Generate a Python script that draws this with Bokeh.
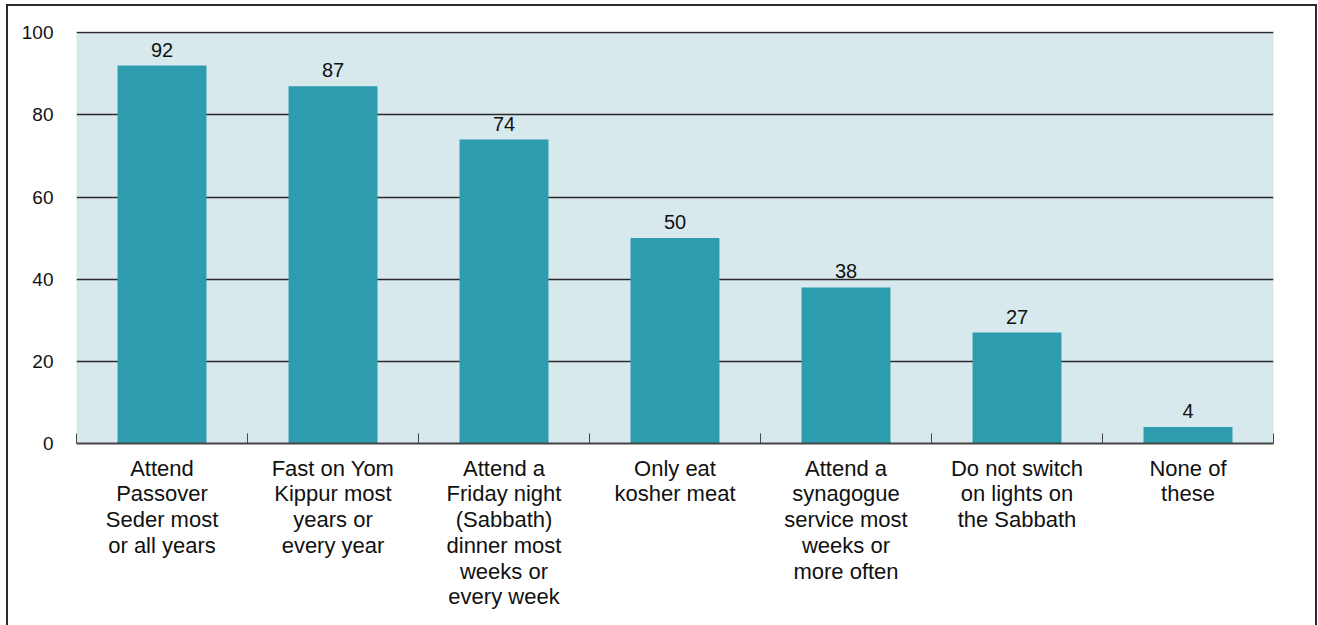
from bokeh.plotting import figure
from bokeh.models import FixedTicker, Range1d, ColumnDataSource, LabelSet
from bokeh.core.properties import value
from bokeh.embed import file_html
from bokeh.resources import INLINE

categories = [
    "Attend\nPassover\nSeder most\nor all years",
    "Fast on Yom\nKippur most\nyears or\nevery year",
    "Attend a\nFriday night\n(Sabbath)\ndinner most\nweeks or\nevery week",
    "Only eat\nkosher meat",
    "Attend a\nsynagogue\nservice most\nweeks or\nmore often",
    "Do not switch\non lights on\nthe Sabbath",
    "None of\nthese",
]
values = [92, 87, 74, 50, 38, 27, 4]
y_ticks = [0, 20, 40, 60, 80, 100]

FONT = "Liberation Sans"
n = len(categories)
xs = [i + 0.5 for i in range(n)]

src = ColumnDataSource(dict(x=xs, top=values, lab=[str(v) for v in values]))

p = figure(width=1311, height=621, output_backend="svg", toolbar_location=None,
           x_range=Range1d(0, n), y_range=Range1d(0, 100.3),
           min_border_left=68, min_border_right=46, min_border_top=25,
           min_border_bottom=184)
p.styles = {"border-top": "2px solid #2a2a2a", "border-left": "2px solid #2a2a2a",
            "border-right": "2px solid #2a2a2a", "box-sizing": "border-box",
            "margin-left": "6px", "margin-top": "4px"}

p.background_fill_color = "#d7e9ec"
p.border_fill_color = "white"
p.outline_line_color = None

p.vbar(x="x", top="top", width=0.52, bottom=0, source=src,
       fill_color="#2e9caf", line_color=None)

p.add_layout(LabelSet(x="x", y="top", text="lab", source=src, text_align="center",
                      text_baseline="alphabetic", y_offset=9, text_font=value(FONT),
                      text_font_size="20px", text_color="#111111"))

# x axis
p.xaxis.ticker = FixedTicker(ticks=xs, minor_ticks=list(range(n + 1)))
p.xaxis.major_label_overrides = {x: c for x, c in zip(xs, categories)}
p.xaxis.major_tick_in = 0
p.xaxis.major_tick_out = 0
p.xaxis.minor_tick_in = 10
p.xaxis.minor_tick_out = 0
p.xaxis.minor_tick_line_color = "#444444"
p.xaxis.axis_line_color = "#444444"
p.xaxis.axis_line_width = 2
p.xaxis.major_label_standoff = 12
p.xaxis.major_label_text_font = FONT
p.xaxis.major_label_text_font_size = "22px"
p.xaxis.major_label_text_color = "#111111"
p.xaxis.major_label_text_line_height = 1.03

# y axis
p.yaxis.ticker = FixedTicker(ticks=y_ticks)
p.yaxis.axis_line_color = None
p.yaxis.major_tick_line_color = None
p.yaxis.minor_tick_line_color = None
p.yaxis.major_label_standoff = 17
p.yaxis.major_label_text_font = FONT
p.yaxis.major_label_text_font_size = "19px"
p.yaxis.major_label_text_color = "#111111"

p.xgrid.grid_line_color = None
p.ygrid.ticker = FixedTicker(ticks=y_ticks)
p.ygrid.grid_line_color = "#2a2a2a"
p.ygrid.grid_line_width = 1.3

open("out.html", "w").write(file_html(p, INLINE))
